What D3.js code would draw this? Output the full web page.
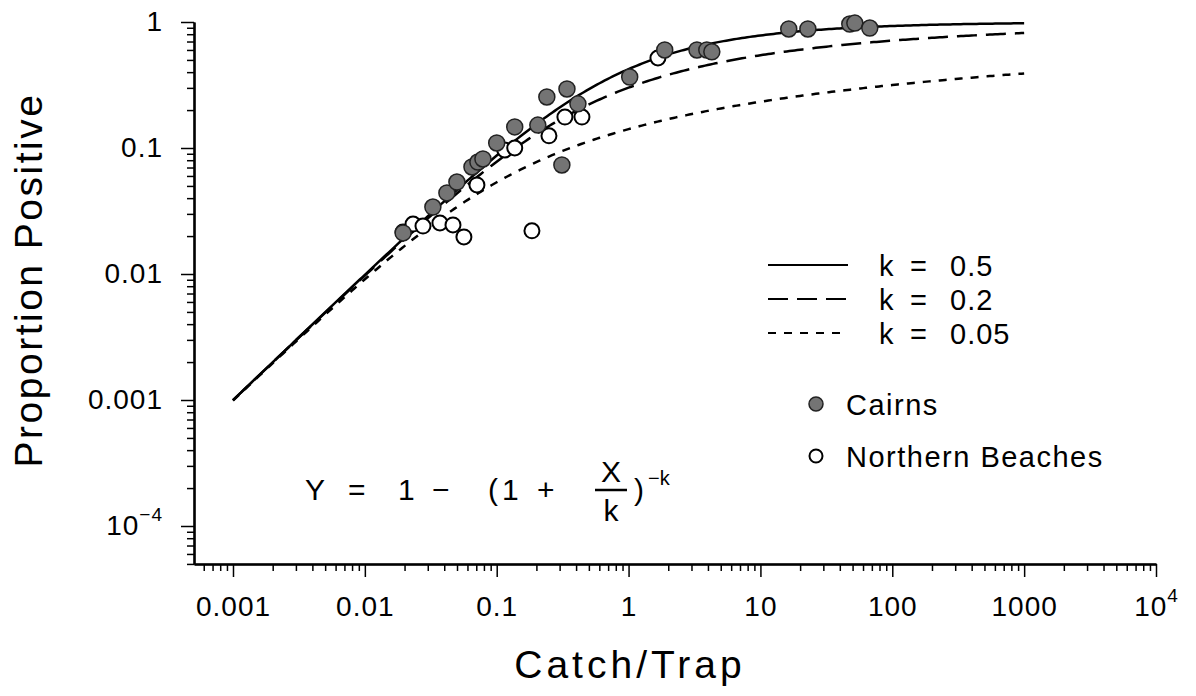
<!DOCTYPE html>
<html>
<head>
<meta charset="utf-8">
<script src="https://cdn.jsdelivr.net/npm/d3@7"></script>
<style>
  body { margin: 0; background: #fff; }
  svg { display: block; font-family: "Liberation Sans", Arial, sans-serif; }
  .tick text { fill: #000; }
</style>
</head>
<body>
<div id="chart"></div>
<script>
// Proportion positive vs catch per trap, log-log

const kValues = [0.5, 0.2, 0.05];
const kLabels = ["0.5", "0.2", "0.05"];
const kDashes = ["none", "20,9", "8,8"];

// Cairns (filled) [catch/trap, proportion positive]
const cairnsX = [0.0195, 0.0328, 0.0419, 0.0499, 0.0649, 0.072, 0.0786, 0.1, 0.137, 0.205, 0.24, 0.341, 0.413, 0.312, 1.02, 1.88, 3.3, 3.92, 4.28, 16.4, 22.9, 47.6, 52, 67.5];
const cairnsY = [0.0212, 0.034, 0.044, 0.0537, 0.0707, 0.0774, 0.0818, 0.1096, 0.147, 0.152, 0.254, 0.294, 0.224, 0.0733, 0.366, 0.6, 0.6, 0.6, 0.58, 0.88, 0.88, 0.964, 0.98, 0.896];

// Northern Beaches (open)
const beachesX = [0.0195, 0.0232, 0.0276, 0.0371, 0.0466, 0.0564, 0.0708, 0.115, 0.137, 0.185, 0.249, 0.329, 0.443, 1.67];
const beachesY = [0.0215, 0.0249, 0.024, 0.0254, 0.0245, 0.0197, 0.0509, 0.0964, 0.1, 0.022, 0.125, 0.176, 0.176, 0.518];

const xMajor = [0.001, 0.01, 0.1, 1, 10, 100, 1000, 10000];
const xMajorLabels = ["0.001", "0.01", "0.1", "1", "10", "100", "1000", "10^4"];
const yMajor = [0.0001, 0.001, 0.01, 0.1, 1];
const yMajorLabels = ["10^-4", "0.001", "0.01", "0.1", "1"];

const width = 1196, height = 696;

const svg = d3.select("#chart").append("svg")
    .attr("width", width)
    .attr("height", height);

const x = d3.scaleLog().domain([Math.pow(10, -3.2957), 1e4]).range([194, 1156]);
const y = d3.scaleLog().domain([Math.pow(10, -4.3016), 1]).range([564, 22]);

function minorTicks(lo, hi) {
    const out = [];
    for (let e = lo; e < hi; e++) {
        for (let m = 2; m <= 9; m++) out.push(m * Math.pow(10, e));
    }
    return out;
}

// labels like 10^4 get a superscript
function writeLabel(sel, label) {
    sel.text(null);
    if (label.indexOf("^") > 0) {
        const parts = label.split("^");
        sel.append("tspan").text(parts[0]);
        sel.append("tspan")
            .attr("dy", "-0.75em")
            .style("font-size", "0.68em")
            .text(parts[1].replace("-", "\u2212"));
    } else {
        sel.text(label);
    }
}

// x axis
const xMinor = minorTicks(-4, 4).filter(v => v >= x.domain()[0] && v <= 1e4);
svg.append("g")
    .attr("transform", "translate(0,564)")
    .call(d3.axisBottom(x).tickValues(xMinor).tickSize(7).tickSizeOuter(0).tickFormat(""))
    .call(g => g.selectAll("path, line").attr("stroke", "#000").attr("stroke-width", 1.5));

const xAxis = svg.append("g")
    .attr("transform", "translate(0,564)")
    .call(d3.axisBottom(x).tickValues(xMajor).tickSize(13).tickSizeOuter(0).tickPadding(14))
    .call(g => g.select(".domain").attr("stroke", "#000").attr("stroke-width", 2.5))
    .call(g => g.selectAll(".tick line").attr("stroke", "#000").attr("stroke-width", 1.5));
xAxis.selectAll(".tick text")
    .style("font-size", "28px")
    .style("letter-spacing", "1px")
    .attr("dy", "0.9em")
    .each(function(d, i) { writeLabel(d3.select(this), xMajorLabels[i]); });

// y axis
const yMinor = minorTicks(-5, 0).filter(v => v >= y.domain()[0] && v <= 1);
svg.append("g")
    .attr("transform", "translate(194,0)")
    .call(d3.axisLeft(y).tickValues(yMinor).tickSize(7).tickSizeOuter(0).tickFormat(""))
    .call(g => g.selectAll("path, line").attr("stroke", "#000").attr("stroke-width", 1.5));

const yAxis = svg.append("g")
    .attr("transform", "translate(194,0)")
    .call(d3.axisLeft(y).tickValues(yMajor).tickSize(13).tickSizeOuter(0).tickPadding(18))
    .call(g => g.select(".domain").attr("stroke", "#000").attr("stroke-width", 2.5))
    .call(g => g.selectAll(".tick line").attr("stroke", "#000").attr("stroke-width", 1.5));
yAxis.selectAll(".tick text")
    .style("font-size", "28px")
    .style("letter-spacing", "1px")
    .each(function(d, i) { writeLabel(d3.select(this), yMajorLabels[i]); });

// axis titles
svg.append("text")
    .attr("x", 630).attr("y", 678)
    .attr("text-anchor", "middle")
    .style("font-size", "39px")
    .style("letter-spacing", "4px")
    .text("Catch/Trap");

svg.append("text")
    .attr("transform", "translate(42,280) rotate(-90)")
    .attr("text-anchor", "middle")
    .style("font-size", "39px")
    .style("letter-spacing", "2.5px")
    .text("Proportion Positive");

// model curves
const xs = d3.range(-3, 3.0001, 0.02).map(e => Math.pow(10, e));
const line = d3.line().x(d => x(d[0])).y(d => y(d[1]));

kValues.forEach((k, i) => {
    const pts = xs.map(v => [v, 1 - Math.pow(1 + v / k, -k)]);
    svg.append("path")
        .attr("d", line(pts))
        .attr("fill", "none")
        .attr("stroke", "#000")
        .attr("stroke-width", 2.5)
        .attr("stroke-dasharray", kDashes[i]);
});

// points
svg.append("g").selectAll("circle")
    .data(d3.zip(beachesX, beachesY))
    .join("circle")
    .attr("cx", d => x(d[0]))
    .attr("cy", d => y(d[1]))
    .attr("r", 7.5)
    .attr("fill", "#fff")
    .attr("stroke", "#000")
    .attr("stroke-width", 2);

svg.append("g").selectAll("circle")
    .data(d3.zip(cairnsX, cairnsY))
    .join("circle")
    .attr("cx", d => x(d[0]))
    .attr("cy", d => y(d[1]))
    .attr("r", 8)
    .attr("fill", "#747474")
    .attr("stroke", "#222")
    .attr("stroke-width", 1.5);

// legend
const legend = svg.append("g").style("font-size", "29px");
kLabels.forEach((lab, i) => {
    const yy = 265 + i * 34;
    legend.append("line")
        .attr("x1", 768).attr("x2", 848)
        .attr("y1", yy).attr("y2", yy)
        .attr("stroke", "#000")
        .attr("stroke-width", 2)
        .attr("stroke-dasharray", kDashes[i]);
    legend.append("text").attr("x", 879).attr("y", yy + 11).text("k");
    legend.append("text").attr("x", 910).attr("y", yy + 11).text("=");
    legend.append("text").attr("x", 950).attr("y", yy + 11)
        .style("letter-spacing", "1px").text(lab);
});

legend.append("circle")
    .attr("cx", 816).attr("cy", 404).attr("r", 7)
    .attr("fill", "#747474").attr("stroke", "#222").attr("stroke-width", 1.5);
legend.append("text")
    .attr("x", 846).attr("y", 415)
    .style("letter-spacing", "1.5px")
    .text("Cairns");

legend.append("circle")
    .attr("cx", 816).attr("cy", 456).attr("r", 6.5)
    .attr("fill", "#fff").attr("stroke", "#000").attr("stroke-width", 2);
legend.append("text")
    .attr("x", 846).attr("y", 467)
    .style("letter-spacing", "1.5px")
    .text("Northern Beaches");

// formula
const f = svg.append("g").style("font-size", "30px");
const pieces = [["Y", 305], ["=", 348], ["1", 398], ["\u2212", 432], ["(", 488], ["1", 502], ["+", 537], [")", 634]];
pieces.forEach(p => f.append("text").attr("x", p[1]).attr("y", 500).text(p[0]));
f.append("text").attr("x", 611).attr("y", 482).attr("text-anchor", "middle").text("X");
f.append("line").attr("x1", 595).attr("x2", 627).attr("y1", 490).attr("y2", 490)
    .attr("stroke", "#000").attr("stroke-width", 2.5);
f.append("text").attr("x", 611).attr("y", 521).attr("text-anchor", "middle").text("k");
f.append("text").attr("x", 648).attr("y", 485).style("font-size", "20px").text("\u2212k");
</script>
</body>
</html>
